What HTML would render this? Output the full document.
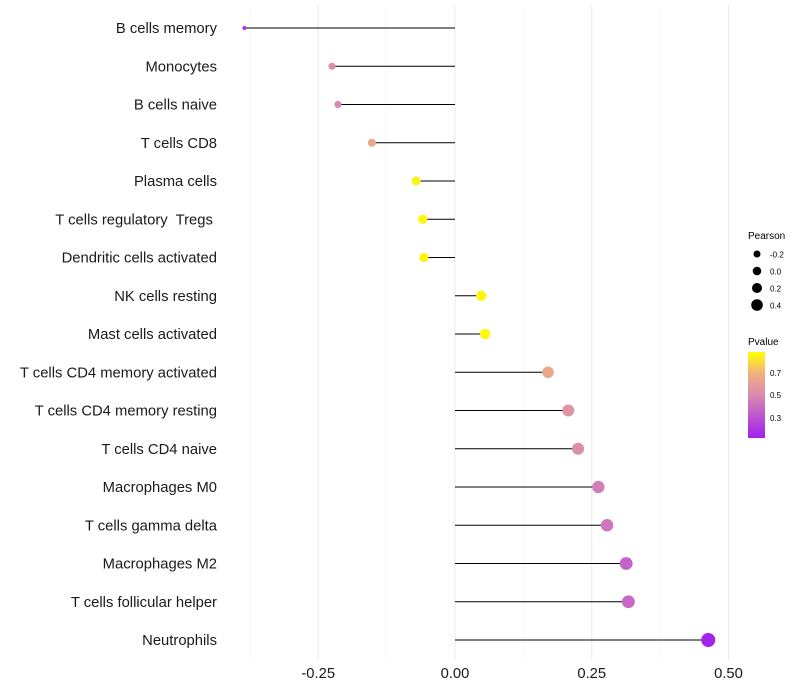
<!DOCTYPE html>
<html><head><meta charset="utf-8"><style>
body{margin:0;background:#fff;}
svg{display:block;font-family:"Liberation Sans",sans-serif;}
text{white-space:pre;}
</style></head><body>
<svg id="chart" width="800" height="700">
<g id="grid"></g>
<g id="lines"></g>
<g id="dots"></g>
<g id="ylabels"></g>
<g id="xlabels"></g>
<g>
<text x="748" y="239" font-size="10" fill="#000">Pearson</text>
<circle cx="757" cy="254" r="3.5" fill="#000"/><text x="770" y="257.5" font-size="8">-0.2</text>
<circle cx="757" cy="271" r="4.3" fill="#000"/><text x="770" y="274.5" font-size="8">0.0</text>
<circle cx="757" cy="288" r="5" fill="#000"/><text x="770" y="291.5" font-size="8">0.2</text>
<circle cx="757" cy="305" r="5.8" fill="#000"/><text x="770" y="308.5" font-size="8">0.4</text>
</g>
<g>
<defs><linearGradient id="pg" x1="0" y1="1" x2="0" y2="0">
<stop offset="0" stop-color="#a020f0"/><stop offset="0.5" stop-color="#d98ab0"/><stop offset="0.75" stop-color="#f0b080"/><stop offset="1" stop-color="#ffff00"/></linearGradient></defs>
<text x="748" y="345" font-size="10">Pvalue</text>
<rect x="748" y="352" width="17" height="86" fill="url(#pg)"/>
<text x="770" y="376" font-size="8">0.7</text>
<text x="770" y="398" font-size="8">0.5</text>
<text x="770" y="421" font-size="8">0.3</text>
</g>
</svg>
<script>
const categories=["B cells memory","Monocytes","B cells naive","T cells CD8","Plasma cells","T cells regulatory  Tregs ","Dendritic cells activated","NK cells resting","Mast cells activated","T cells CD4 memory activated","T cells CD4 memory resting","T cells CD4 naive","Macrophages M0","T cells gamma delta","Macrophages M2","T cells follicular helper","Neutrophils"];
const pearson=[-0.385,-0.225,-0.214,-0.152,-0.071,-0.059,-0.057,0.048,0.055,0.170,0.207,0.225,0.262,0.278,0.313,0.317,0.463];
const pvalue=[0.2,0.52,0.5,0.66,0.86,0.87,0.86,0.86,0.87,0.66,0.55,0.52,0.46,0.43,0.36,0.38,0.13];
const xTicks=[-0.25,0,0.25,0.5];
const xTickLabels=["-0.25","0.00","0.25","0.50"];
const NS="http://www.w3.org/2000/svg";
const xs=v=>455+v*547;
const ys=i=>28+i*38.25;
const rs=v=>Math.sqrt(4+(v+0.385)*53);
function lerp(a,b,t){return a.map((c,i)=>Math.round(c+(b[i]-c)*t));}
function col(p){const st=[[0.12,[160,32,240]],[0.5,[217,138,176]],[0.7,[240,176,128]],[0.887,[255,255,0]]];
 if(p<=st[0][0])return `rgb(${st[0][1]})`;for(let i=1;i<st.length;i++){if(p<=st[i][0]){const t=(p-st[i-1][0])/(st[i][0]-st[i-1][0]);return `rgb(${lerp(st[i-1][1],st[i][1],t)})`;}}return 'rgb(255,255,0)';}
function mk(tag,attrs,parent){const e=document.createElementNS(NS,tag);for(const k in attrs)e.setAttribute(k,attrs[k]);document.getElementById(parent).appendChild(e);return e;}
[-0.375,-0.25,-0.125,0,0.125,0.25,0.375,0.5].forEach(v=>{
 const l=mk('line',{x1:xs(v),x2:xs(v),y1:5,y2:660,stroke:v*8%2===0?'#ebebeb':'#f3f3f3','stroke-width':v*8%2===0?1:0.6},'grid');
 
 
});
categories.forEach((c,i)=>{
 const y=ys(i);
 const l=mk('line',{x1:xs(0),x2:xs(pearson[i]),y1:y,y2:y,stroke:'#000','stroke-width':1},'lines');
 
 
 const d=mk('circle',{cx:xs(pearson[i]),cy:y,r:rs(pearson[i]),fill:col(pvalue[i])},'dots');
 
 
 const t=mk('text',{x:217,y:y+5,'text-anchor':'end','font-size':14.8,fill:'#1a1a1a'},'ylabels');
 t.textContent=c;
 
 
});
xTicks.forEach((v,i)=>{
 const t=mk('text',{x:xs(v),y:678,'text-anchor':'middle','font-size':14.8,fill:'#1a1a1a'},'xlabels');
 t.textContent=xTickLabels[i];
 
 
});
</script>
</body></html>
